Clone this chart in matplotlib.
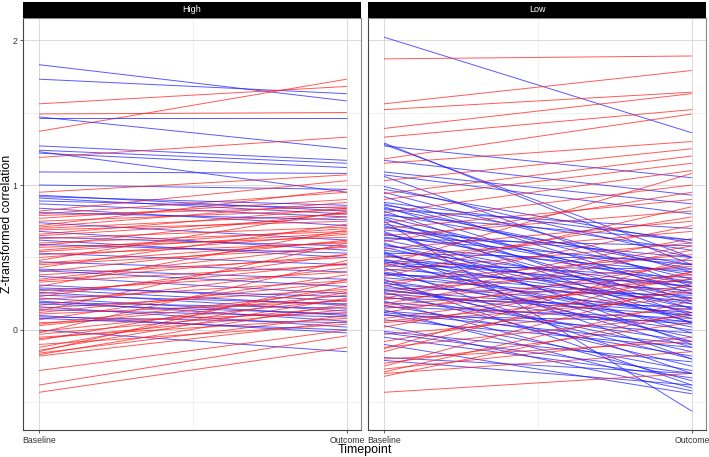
import matplotlib
matplotlib.use("Agg")
import matplotlib.pyplot as plt

plt.rcParams['font.family'] = ['Liberation Sans', 'DejaVu Sans']

# data: baseline / outcome z-values per subject

high_baseline = [1.83, 1.73, 1.56, 1.37, 1.49, 1.46, 1.47, 1.27, 1.24, 1.22, 1.23, 1.19, 1.09, 1.00, 0.95,
                 0.93, 0.91, 0.89, 0.87, 0.84, 0.82, 0.80, 0.79, 0.77, 0.75, 0.74, 0.72, 0.70, 0.69, 0.68,
                 0.66, 0.64, 0.63, 0.62, 0.60, 0.58, 0.57, 0.55, 0.53, 0.52, 0.50, 0.48, 0.47, 0.45, 0.43,
                 0.42, 0.40, 0.38, 0.37, 0.35, 0.33, 0.31, 0.30, 0.28, 0.27, 0.26, 0.24, 0.23, 0.22, 0.21,
                 0.20, 0.19, 0.17, 0.16, 0.15, 0.14, 0.13, 0.11, 0.10, 0.09, 0.07, 0.05, 0.03, 0.00, -0.02,
                 -0.03, -0.05, -0.07, -0.10, -0.14, -0.15, -0.16, -0.17, -0.18, -0.28, -0.38, -0.43,
                 0.92, 0.81, 0.71, 0.65, 0.59, 0.54, 0.46, 0.41, 0.34, 0.29, 0.25, 0.18, 0.12, 0.08,
                 0.04, -0.01, -0.06, -0.12]
high_outcome = [1.58, 1.63, 1.68, 1.73, 1.50, 1.46, 1.25, 1.17, 1.15, 1.12, 0.95, 1.33, 1.08, 0.97, 1.07,
                0.82, 0.80, 0.84, 0.78, 0.72, 1.03, 0.95, 0.85, 0.90, 0.83, 0.62, 0.97, 0.80, 0.75, 0.55,
                0.84, 0.58, 0.71, 0.50, 0.68, 0.81, 0.64, 0.70, 0.45, 0.60, 0.66, 0.82, 0.40, 0.57, 0.73,
                0.35, 0.62, 0.50, 0.25, 0.58, 0.45, 0.20, 0.69, 0.17, 0.40, 0.13, 0.18, 0.52, 0.10, 0.34,
                0.06, 0.15, 0.43, 0.02, 0.28, 0.09, 0.60, 0.20, -0.02, 0.05, 0.38, 0.12, 0.24, -0.15, 0.48,
                0.16, 0.08, 0.30, 0.04, 0.22, 0.35, 0.10, 0.18, 0.06, 0.00, -0.04, -0.12,
                0.86, 0.76, 0.88, 0.78, 0.53, 0.67, 0.61, 0.30, 0.52, 0.23, 0.46, 0.11, 0.33, 0.00,
                0.27, 0.21, 0.14, 0.26]

low_baseline = [2.02, 1.87, 1.56, 1.52, 1.39, 1.33, 1.29, 1.28, 1.27, 1.18, 1.17, 1.15, 1.09, 1.07, 1.06,
                1.03, 0.97, 0.95, 0.94, 0.90, 0.87, 0.86, 0.85, 0.83, 0.82, 0.81, 0.80, 0.79, 0.78, 0.77,
                0.75, 0.74, 0.73, 0.72, 0.70, 0.69, 0.68, 0.66, 0.65, 0.63, 0.62, 0.61, 0.60, 0.58, 0.57,
                0.56, 0.55, 0.54, 0.53, 0.52, 0.51, 0.50, 0.49, 0.48, 0.47, 0.46, 0.45, 0.44, 0.43, 0.42,
                0.41, 0.40, 0.39, 0.38, 0.37, 0.36, 0.35, 0.34, 0.33, 0.32, 0.31, 0.30, 0.29, 0.28, 0.27,
                0.26, 0.25, 0.24, 0.23, 0.22, 0.21, 0.20, 0.19, 0.18, 0.17, 0.16, 0.15, 0.14, 0.13, 0.12,
                0.11, 0.10, 0.08, 0.07, 0.05, 0.03, 0.02, -0.01, -0.03, -0.05, -0.08, -0.10, -0.12, -0.13,
                -0.19, -0.21, -0.23, -0.25, -0.27, -0.29, -0.30, -0.32, -0.43,
                0.99, 0.92, 0.88, 0.84, 0.76, 0.71, 0.67, 0.64, 0.59, 0.53, 0.47, 0.44, 0.39, 0.33,
                0.27, 0.22, 0.17, 0.12, 0.06, -0.02, -0.15, -0.20]
low_outcome = [1.36, 1.89, 1.79, 1.64, 1.63, 1.52, 0.45, 0.50, 1.05, 1.49, 0.93, 1.30, 0.87, 0.80, 0.30,
               1.25, 0.60, 0.40, 1.20, 1.15, 0.35, 0.55, 0.20, 0.70, 0.10, 1.10, 0.45, 0.62, 0.28, 0.05,
               -0.56, 1.00, 0.38, 0.15, 0.90, 0.50, -0.10, 0.32, 0.82, 0.58, 0.22, 0.95, -0.02, 0.40, 0.12,
               0.75, 0.30, -0.20, 0.48, 0.08, 0.25, 0.68, -0.12, 0.36, 0.18, 0.02, 1.08, 0.42, -0.30, 0.27,
               0.60, 0.10, -0.05, 0.33, 0.85, 0.20, -0.38, 0.05, 0.52, 0.14, -0.15, 0.72, 0.24, 0.00, 0.44,
               -0.25, 0.10, 0.63, -0.08, 0.16, 0.38, -0.35, 0.04, 0.55, -0.18, 0.08, 0.30, -0.40, -0.02, 0.46,
               -0.28, 0.06, 0.35, -0.12, 0.22, -0.42, 0.40, -0.22, 0.15, -0.33, 0.28, -0.44, 0.10, 0.50,
               -0.30, -0.38, 0.05, 0.32, -0.05, 0.20, -0.15, 0.12, -0.30,
               0.50, 0.25, 0.62, 0.42, 0.18, 0.33, 0.05, 0.45, 0.15, -0.08, 0.30, 0.78, 0.22, -0.20,
               0.12, 0.58, 0.35, -0.10, 0.26, -0.30, 0.40, -0.08]

groups = ["High", "Low"]
timepoints = ["Baseline", "Outcome"]

RED = "#ff1a1a"
BLUE = "#1a1aff"

W, H = 709, 457
fig = plt.figure(figsize=(W / 100, H / 100), dpi=100)


def panel(x0, baseline, outcome, title, show_y):
    ax = fig.add_axes([x0 / W, (H - 430) / H, 338 / W, 412 / H])
    for b, o in zip(baseline, outcome):
        c = RED if o > b else BLUE
        ax.plot([0, 1], [b, o], color=c, lw=0.7, alpha=0.72, solid_capstyle="butt")
    ax.set_xlim(-0.052, 1.046)
    ax.set_ylim(-0.69, 2.152)
    ax.set_xticks([0, 1])
    ax.set_xticklabels(timepoints)
    ax.set_xticks([0.5], minor=True)
    ax.set_yticks([0, 1, 2])
    ax.set_yticks([-0.5, 0.5, 1.5], minor=True)
    ax.grid(True, which="major", color="#d4d4d4", lw=0.6)
    ax.grid(True, which="minor", color="#ececec", lw=0.5)
    ax.set_axisbelow(True)
    ax.tick_params(which="major", labelsize=6.3, length=2.5, width=0.6, color="#444444", pad=1.5,
                   labelcolor="#333333")
    ax.tick_params(which="minor", length=0)
    if not show_y:
        ax.tick_params(axis="y", left=False, labelleft=False)
    for s in ax.spines.values():
        s.set_color("#888888")
        s.set_linewidth(0.8)
    ax.spines["left"].set_color("#444444")
    ax.spines["bottom"].set_color("#444444")

    strip = fig.add_axes([x0 / W, (H - 18) / H, 338 / W, 16 / H])
    strip.set_facecolor("black")
    strip.set_xticks([])
    strip.set_yticks([])
    for s in strip.spines.values():
        s.set_visible(False)
    strip.text(0.5, 0.5, title, color="white", fontsize=6.5, ha="center", va="center",
               transform=strip.transAxes)
    return ax


ax1 = panel(23, high_baseline, high_outcome, groups[0], True)
ax2 = panel(368, low_baseline, low_outcome, groups[1], False)

fig.text(7 / W, 1 - 224 / H, "Z-transformed correlation", fontsize=8.8, rotation=90,
         ha="center", va="center")
fig.text(365 / W, 1 - 450 / H, "Timepoint", fontsize=9, ha="center", va="center")

fig.savefig("out.png", dpi=100)
